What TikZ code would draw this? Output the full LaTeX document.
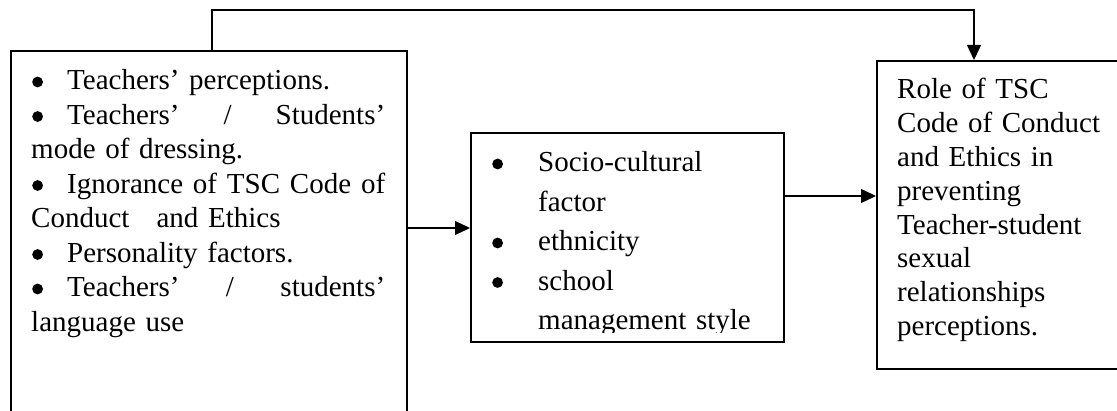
\documentclass[tikz,border=0pt]{standalone}
\usepackage{fontspec}
\setmainfont{Liberation Serif}
\usetikzlibrary{arrows.meta,calc}
\newcommand{\bulletdot}{\tikz[baseline=0pt,x=1pt,y=1pt]\fill (0,8) circle[x radius=5.4, y radius=5.4];}
\newcommand{\lbul}{\makebox[36pt][l]{\hspace*{1pt}\bulletdot}}
\newcommand{\mbul}{\makebox[45pt][l]{\hspace*{-1pt}\bulletdot}}
\begin{document}
\begin{tikzpicture}[x=1pt,y=-1pt,
  box/.style={draw, line width=1.6pt, inner sep=0pt, anchor=north west},
  conn/.style={line width=1.4pt},
  arr/.style={conn, -{Triangle[length=15pt,width=14pt]}},
  txt/.style={inner sep=0pt, anchor=base west, align=left, font=\fontsize{29pt}{34.5pt}\selectfont}]
\useasboundingbox (0,0) rectangle (1117,411);
% boxes
\node[box, minimum width=396pt, minimum height=400pt] (L) at (10,50) {};
\node[box, minimum width=313pt, minimum height=209pt] (M) at (470,132) {};
\node[box, minimum width=300pt, minimum height=308pt] (R) at (876,60) {};
% connectors
\draw[arr] (L.east |- 0,228) -- (M.west |- 0,228);
\draw[arr] (M.east |- 0,196) -- (R.west |- 0,196);
\coordinate (t1) at ($(L.north west)+(202,0)$);
\coordinate (t2) at ($(R.north west)+(98,0)$);
\draw[arr] (t1) -- ++(0,-40) -| (t2);
% texts
\node[txt, text width=354pt] (Lt) at (31,90) {%
\lbul Teachers’ perceptions.\\
\lbul Teachers’\hfill/\hfill Students’\\
mode of dressing.\\
\lbul Ignorance\hfill of\hfill TSC\hfill Code\hfill of\\
Conduct\hspace*{0.6em} and Ethics\\
\lbul Personality factors.\\
\lbul Teachers’\hfill/\hfill students’\\
language use};
\node[txt, text width=215pt, font=\fontsize{29pt}{33.8pt}\selectfont] (Rt) at (897,99) {%
Role of TSC\\
Code of Conduct\\
and Ethics in\\
preventing\\
Teacher-student\\
sexual\\
relationships\\
perceptions.};
\begin{scope}
\clip (M.north west) rectangle ($(M.south east)+(0,-10)$);
\node[txt, text width=280pt, font=\fontsize{29pt}{39.5pt}\selectfont] (Mt) at (493,172) {%
\mbul Socio-cultural\\
\hspace*{45pt}factor\\
\mbul ethnicity\\
\mbul school\\
\hspace*{45pt}management style};
\end{scope}
\end{tikzpicture}
\end{document}
